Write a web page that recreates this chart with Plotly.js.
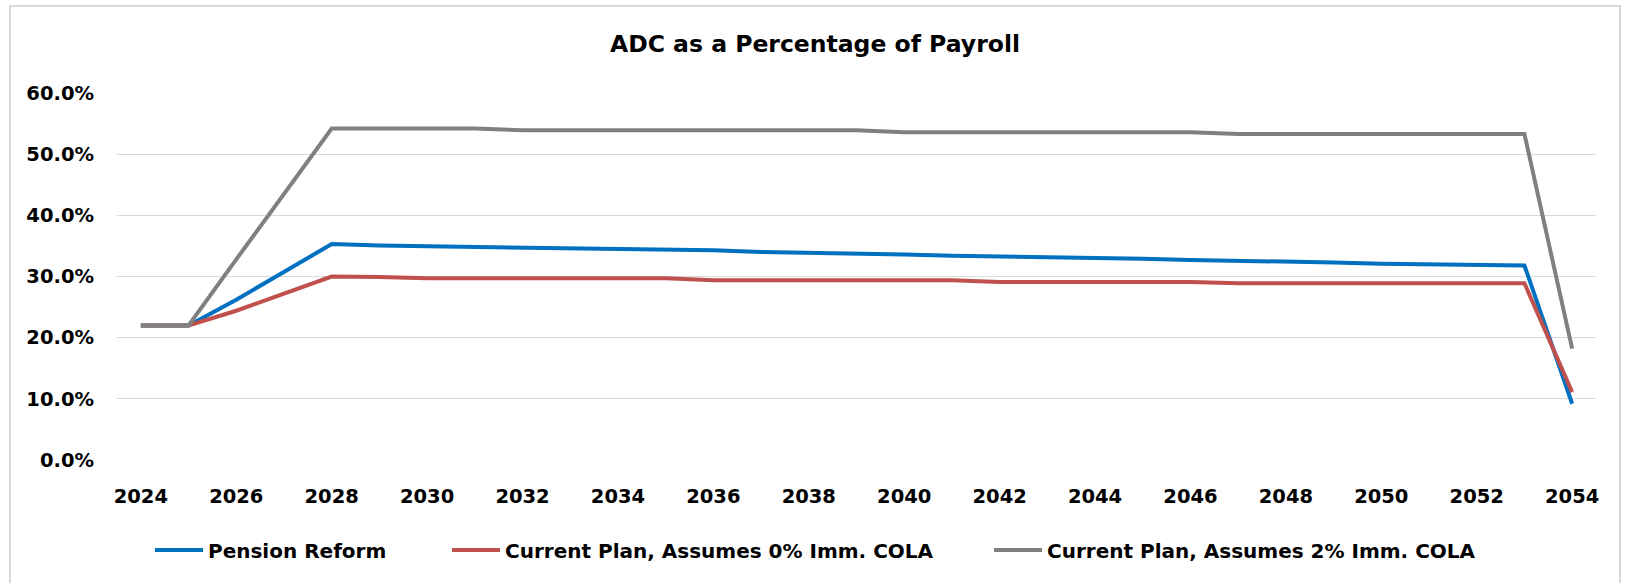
<!DOCTYPE html>
<html>
<head>
<meta charset="utf-8">
<script src="https://cdn.plot.ly/plotly-3.0.1.min.js"></script>
<style>
  html, body { margin: 0; padding: 0; background: #ffffff; overflow: hidden; }
  #wrap { position: relative; width: 1628px; height: 583px; overflow: hidden; }
  #chart { position: absolute; left: 0; top: 0; width: 1628px; height: 583px; }
  #frame { position: absolute; left: 9px; top: 5px; width: 1612px; height: 640px;
           border: 2px solid #d9d9d9; box-sizing: border-box; pointer-events: none; }
</style>
</head>
<body>
<div id="wrap">
  <div id="chart"></div>
  <div id="frame"></div>
</div>
<script>
// Years (category axis)
const years = [2024, 2025, 2026, 2027, 2028, 2029, 2030, 2031, 2032, 2033,
               2034, 2035, 2036, 2037, 2038, 2039, 2040, 2041, 2042, 2043,
               2044, 2045, 2046, 2047, 2048, 2049, 2050, 2051, 2052, 2053, 2054];

// ADC as % of payroll
const pensionReform = [22.0, 22.0, 26.2, 30.7, 35.3, 35.05, 34.95, 34.8, 34.75, 34.6,
                       34.5, 34.5, 34.3, 34.0, 33.9, 33.7, 33.6, 33.4, 33.3, 33.1,
                       33.0, 32.9, 32.7, 32.6, 32.4, 32.3, 32.1, 32.0, 31.8, 31.8, 9.2];
const currentPlan0 = [22.0, 22.0, 24.4, 27.2, 30.0, 29.9, 29.7, 29.7, 29.7, 29.7,
                      29.7, 29.7, 29.4, 29.4, 29.4, 29.4, 29.4, 29.4, 29.1, 29.1,
                      29.1, 29.1, 29.1, 28.9, 28.9, 28.9, 28.9, 28.9, 28.9, 28.9, 11.1];
const currentPlan2 = [22.0, 22.0, 32.8, 43.5, 54.2, 54.2, 54.2, 54.2, 53.9, 53.9,
                      53.9, 53.9, 53.9, 53.9, 53.9, 53.9, 53.6, 53.6, 53.6, 53.6,
                      53.6, 53.6, 53.6, 53.3, 53.3, 53.3, 53.3, 53.3, 53.3, 53.3, 18.2];

const seriesNames = ["Pension Reform",
                     "Current Plan, Assumes 0% Imm. COLA",
                     "Current Plan, Assumes 2% Imm. COLA"];
const yTicks = [0, 10, 20, 30, 40, 50, 60];
const xTicks = [2024, 2026, 2028, 2030, 2032, 2034, 2036, 2038, 2040, 2042,
                2044, 2046, 2048, 2050, 2052, 2054];

const FONT = "'DejaVu Sans', sans-serif";
const W = 1628, H = 583;

const traces = [
  { x: years, y: pensionReform, name: seriesNames[0], type: 'scatter', mode: 'lines',
    line: { color: '#0070C0', width: 4 }, legend: 'legend' },
  { x: years, y: currentPlan0, name: seriesNames[1], type: 'scatter', mode: 'lines',
    line: { color: '#C0504D', width: 4 }, legend: 'legend2' },
  { x: years, y: currentPlan2, name: seriesNames[2], type: 'scatter', mode: 'lines',
    line: { color: '#808080', width: 4 }, legend: 'legend3' }
];

function legendAt(px) {
  return {
    orientation: 'h', x: px / W, xanchor: 'left', xref: 'container',
    y: 1 - 550 / H, yref: 'container', yanchor: 'middle',
    font: { family: FONT, size: 20, color: '#000000', weight: 'bold' },
    itemwidth: 48, bgcolor: 'rgba(0,0,0,0)', borderwidth: 0
  };
}

const layout = {
  width: W, height: H,
  paper_bgcolor: '#ffffff', plot_bgcolor: '#ffffff',
  margin: { l: 117, r: 32, t: 93, b: 123, pad: 0 },
  title: { text: 'ADC as a Percentage of Payroll', x: 815 / W, xref: 'container', xanchor: 'center',
           y: 1 - 44 / H, yref: 'container', yanchor: 'middle',
           font: { family: FONT, size: 23.5, color: '#000000', weight: 'bold' } },
  xaxis: {
    range: [2023.5, 2054.5], tickmode: 'array', tickvals: xTicks,
    ticktext: xTicks.map(String),
    showgrid: false, zeroline: false, showline: false, ticks: '',
    ticklabelstandoff: 22,
    tickfont: { family: FONT, size: 19.5, color: '#000000', weight: 'bold' },
    fixedrange: true
  },
  yaxis: {
    range: [0, 60], tickmode: 'array', tickvals: yTicks,
    ticktext: yTicks.map(v => v.toFixed(1) + '%'),
    showgrid: true, gridcolor: '#d9d9d9', gridwidth: 1.3,
    zeroline: false, showline: false, ticks: '',
    ticklabelstandoff: 22,
    tickfont: { family: FONT, size: 19.5, color: '#000000', weight: 'bold' },
    fixedrange: true
  },
  showlegend: true,
  legend: legendAt(150),
  legend2: legendAt(447),
  legend3: legendAt(989),
  hovermode: false
};

Plotly.newPlot('chart', traces, layout, { staticPlot: true, displayModeBar: false });
</script>
</body>
</html>
